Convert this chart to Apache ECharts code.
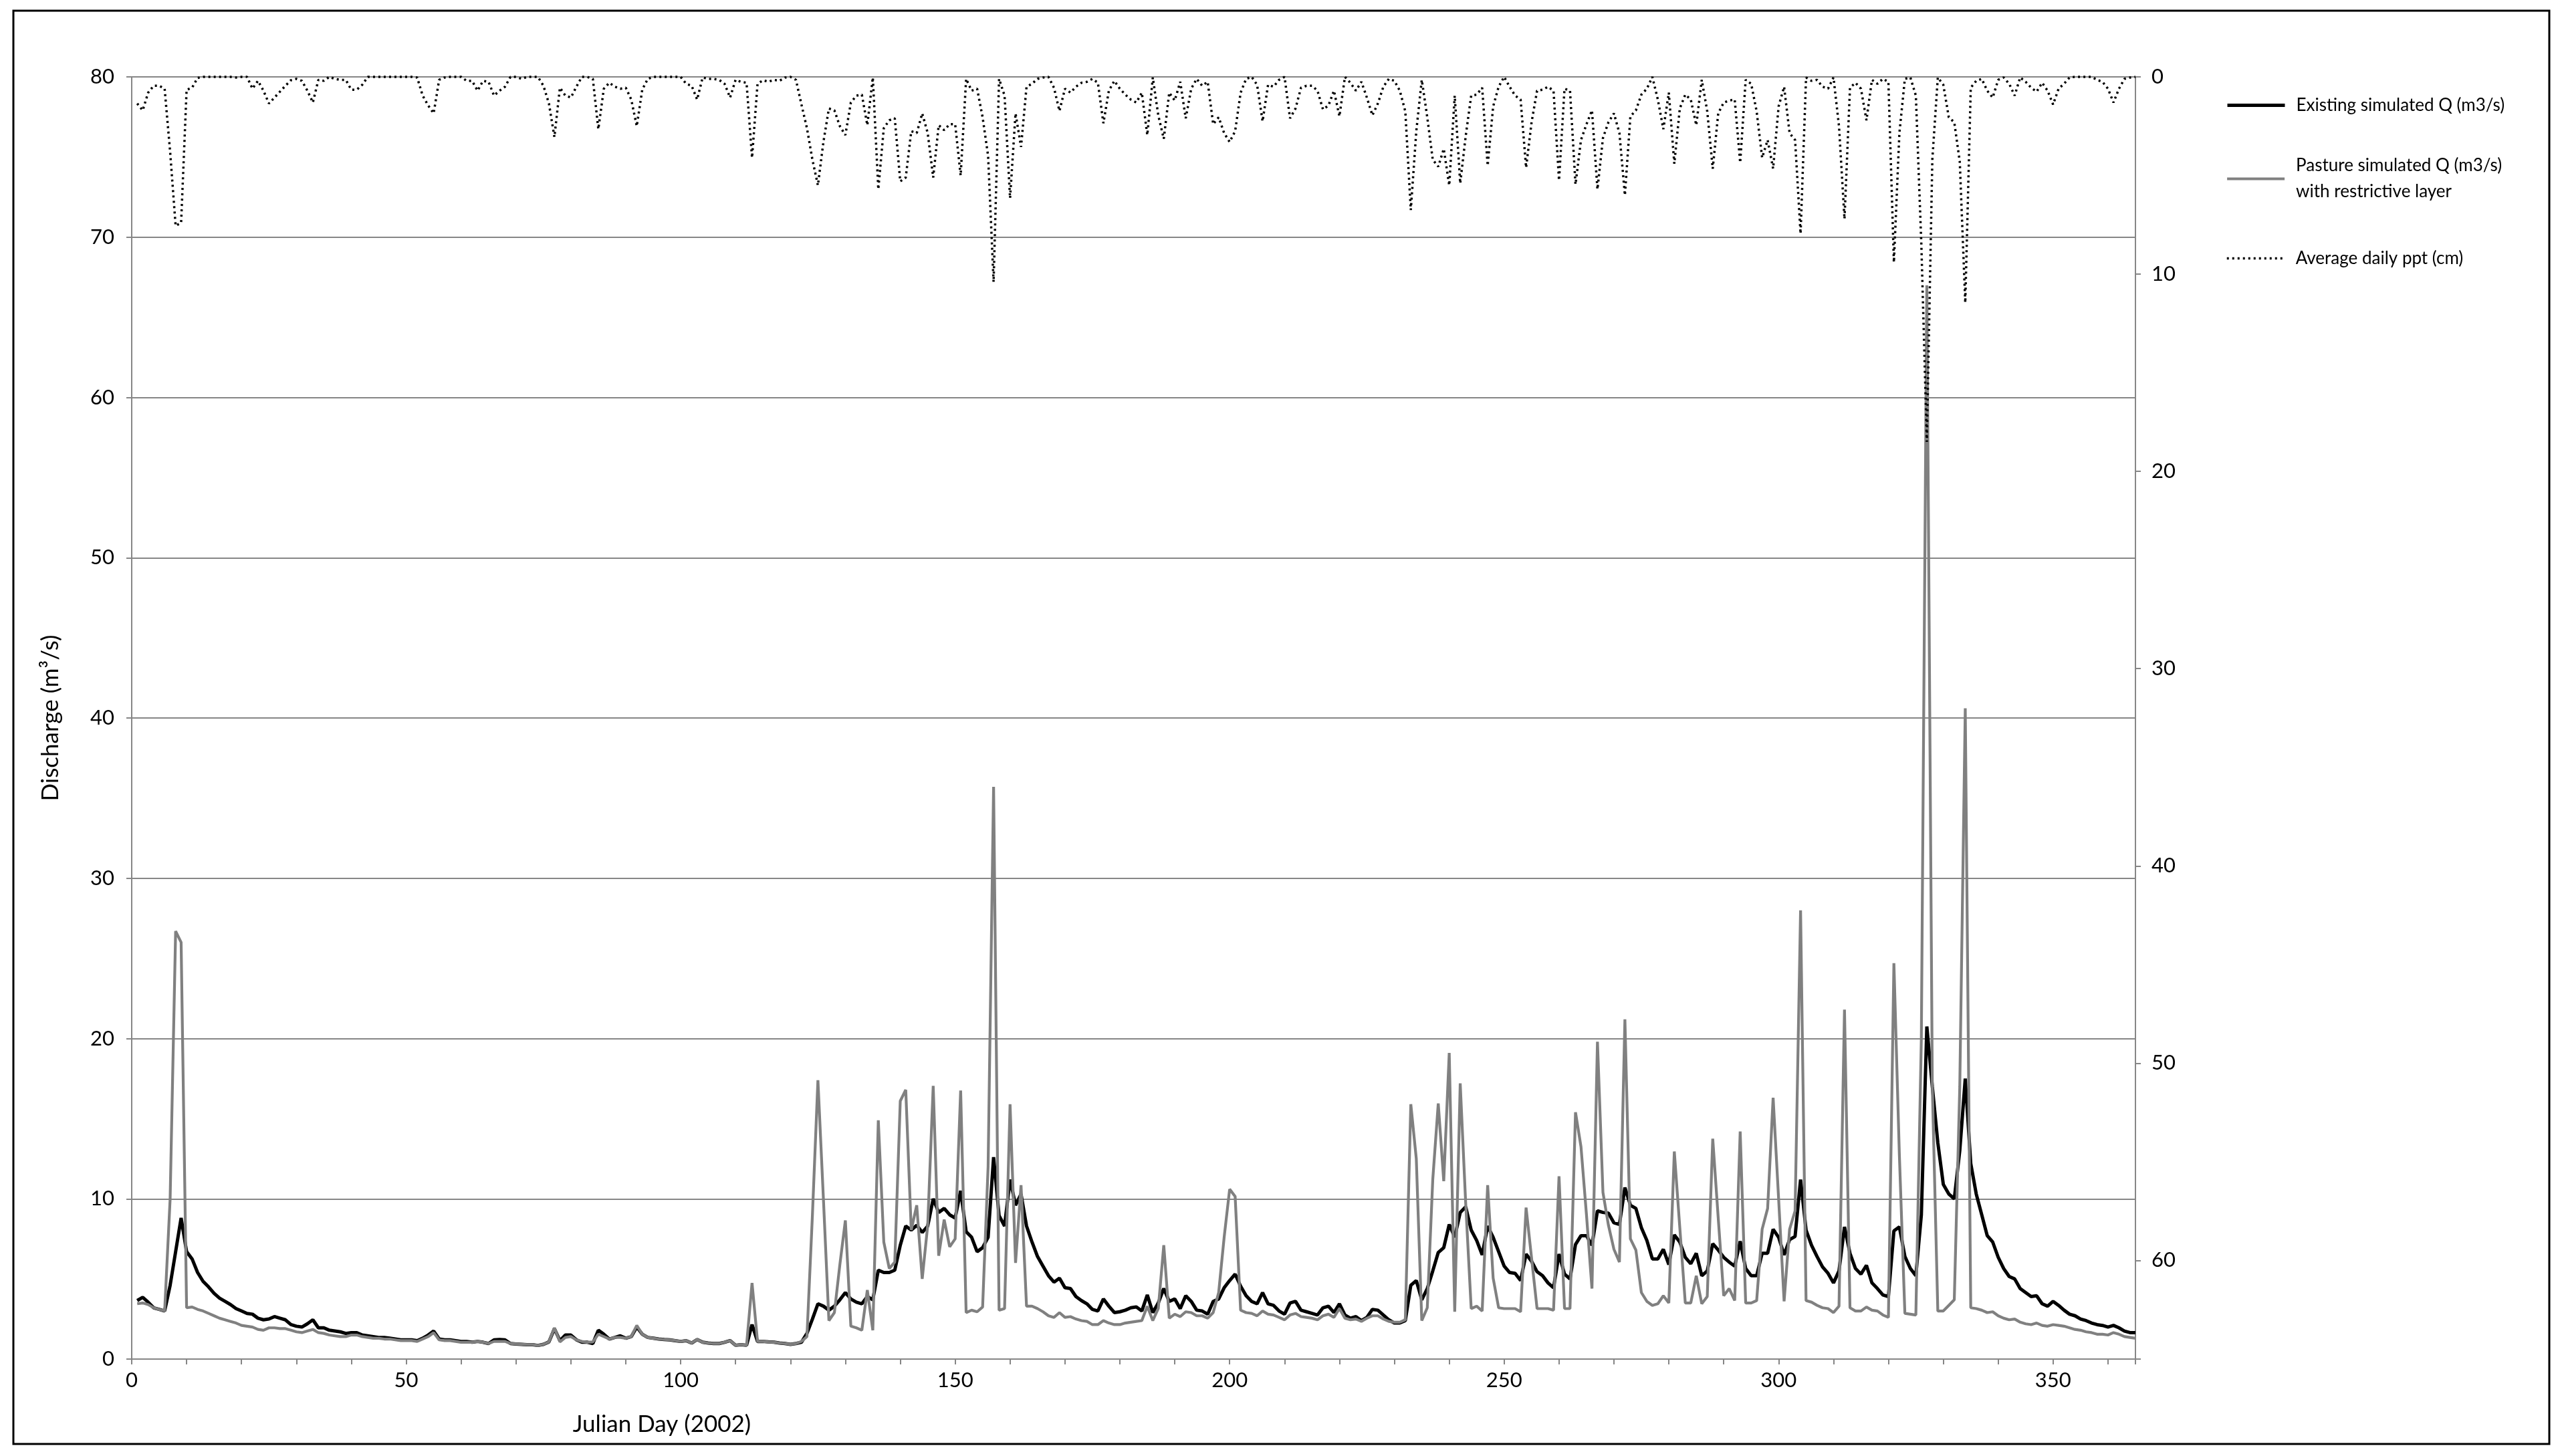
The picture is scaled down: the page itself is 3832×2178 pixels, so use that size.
<!DOCTYPE html>
<html><head><meta charset="utf-8">
<script src="https://cdn.jsdelivr.net/npm/echarts@6/dist/echarts.min.js"></script>
<style>html,body{margin:0;padding:0;background:#fff}#c{width:3832px;height:2178px}</style>
</head><body><div id="c"></div>
<script>
// Existing simulated Q (m3/s), days 1..365
const existingQ = [
3.65,3.85,3.55,3.2,3.1,3.0,4.6,6.7,8.8,6.7,
6.25,5.4,4.85,4.5,4.1,3.8,3.6,3.4,3.15,3.0,
2.85,2.8,2.55,2.45,2.5,2.65,2.55,2.45,2.15,2.05,
2.0,2.2,2.45,1.95,1.95,1.8,1.75,1.7,1.6,1.65,
1.65,1.5,1.45,1.4,1.35,1.35,1.3,1.25,1.2,1.2,
1.2,1.15,1.3,1.5,1.75,1.25,1.2,1.2,1.15,1.1,
1.1,1.05,1.1,1.05,0.97,1.2,1.22,1.2,0.97,0.94,
0.92,0.9,0.9,0.85,0.92,1.07,1.9,1.15,1.5,1.5,
1.2,1.05,1.05,0.97,1.8,1.55,1.25,1.35,1.45,1.3,
1.4,2.0,1.55,1.35,1.3,1.25,1.22,1.2,1.15,1.1,
1.15,1.0,1.22,1.05,1.0,0.97,0.97,1.05,1.15,0.86,
0.9,0.86,2.15,1.1,1.1,1.07,1.05,1.0,0.97,0.92,
0.97,1.05,1.6,2.5,3.45,3.3,3.05,3.3,3.7,4.15,
3.75,3.55,3.45,3.9,3.7,5.55,5.4,5.4,5.55,7.1,
8.3,8.05,8.35,7.9,8.3,10.0,9.15,9.4,9.0,8.8,
10.5,7.95,7.6,6.7,6.95,7.6,12.6,8.95,8.3,11.2,
9.6,10.3,8.3,7.3,6.4,5.8,5.2,4.8,5.05,4.45,
4.4,3.9,3.65,3.45,3.1,3.0,3.75,3.3,2.9,2.95,
3.05,3.2,3.25,3.0,4.0,2.9,3.5,4.4,3.6,3.75,
3.15,3.95,3.6,3.05,3.0,2.8,3.6,3.75,4.45,4.9,
5.3,4.55,3.95,3.6,3.45,4.15,3.45,3.35,3.0,2.8,
3.5,3.6,3.05,2.95,2.85,2.75,3.2,3.3,2.9,3.45,
2.75,2.55,2.65,2.4,2.6,3.1,3.05,2.75,2.45,2.25,
2.25,2.4,4.6,4.9,3.7,4.4,5.5,6.65,6.95,8.4,
7.6,9.15,9.5,8.05,7.4,6.5,8.3,7.6,6.7,5.8,
5.4,5.35,4.9,6.55,6.1,5.45,5.2,4.75,4.45,6.55,
5.3,5.0,7.15,7.7,7.7,7.1,9.25,9.15,9.1,8.5,
8.4,10.7,9.6,9.4,8.2,7.4,6.25,6.25,6.85,5.9,
7.75,7.3,6.35,5.95,6.6,5.2,5.5,7.2,6.8,6.35,
6.05,5.8,7.35,5.65,5.2,5.2,6.6,6.6,8.1,7.6,
6.5,7.45,7.65,11.2,8.05,7.1,6.4,5.75,5.35,4.75,
5.5,8.25,6.6,5.65,5.3,5.85,4.75,4.4,4.0,3.9,
8.0,8.25,6.4,5.65,5.2,9.0,20.75,17.0,13.5,10.9,
10.3,10.0,13.0,17.5,12.2,10.3,9.0,7.7,7.3,6.35,
5.65,5.15,5.0,4.4,4.15,3.9,3.95,3.45,3.3,3.6,
3.35,3.05,2.8,2.7,2.5,2.4,2.25,2.15,2.1,2.0,
2.1,1.95,1.75,1.65,1.65
];
// Pasture simulated Q (m3/s) with restrictive layer, days 1..365
const pastureQ = [
3.45,3.5,3.4,3.2,3.1,3.0,10.0,26.7,26.0,3.2,
3.25,3.1,3.0,2.85,2.7,2.55,2.45,2.35,2.25,2.1,
2.05,2.0,1.85,1.8,1.95,1.95,1.9,1.9,1.8,1.7,
1.65,1.75,1.85,1.65,1.6,1.5,1.45,1.4,1.4,1.5,
1.5,1.4,1.35,1.3,1.3,1.25,1.25,1.2,1.15,1.15,
1.15,1.1,1.25,1.4,1.65,1.2,1.15,1.15,1.1,1.05,
1.05,1.05,1.1,1.05,0.97,1.1,1.1,1.1,0.97,0.94,
0.92,0.9,0.9,0.85,0.92,1.07,1.95,1.07,1.35,1.4,
1.2,1.1,1.05,1.07,1.55,1.4,1.25,1.35,1.35,1.3,
1.4,2.1,1.55,1.35,1.3,1.25,1.22,1.2,1.15,1.1,
1.15,1.0,1.22,1.05,1.0,0.97,0.97,1.05,1.15,0.86,
0.9,0.86,4.75,1.1,1.1,1.07,1.05,1.0,0.97,0.92,
0.97,1.1,1.4,9.0,17.4,10.0,2.4,2.9,5.9,8.65,
2.05,1.95,1.8,4.3,1.8,14.9,7.3,5.65,6.05,16.1,
16.8,8.05,9.6,5.0,8.35,17.05,6.45,8.7,7.0,7.5,
16.75,2.9,3.05,2.95,3.25,12.0,35.7,3.05,3.15,15.9,
6.0,10.85,3.3,3.3,3.15,2.95,2.7,2.6,2.9,2.6,
2.65,2.5,2.4,2.35,2.15,2.15,2.4,2.25,2.15,2.15,
2.25,2.3,2.35,2.4,3.3,2.4,3.15,7.1,2.55,2.8,
2.65,2.95,2.9,2.7,2.7,2.55,2.9,4.15,7.6,10.6,
10.15,3.05,2.9,2.85,2.7,3.0,2.8,2.75,2.6,2.45,
2.75,2.85,2.65,2.6,2.55,2.45,2.7,2.8,2.6,3.15,
2.55,2.45,2.5,2.35,2.55,2.7,2.7,2.5,2.35,2.3,
2.3,2.45,15.9,12.5,2.4,3.2,11.2,15.95,11.1,19.1,
2.95,17.2,9.7,3.15,3.3,3.0,10.85,5.05,3.2,3.15,
3.15,3.15,2.95,9.45,6.3,3.15,3.15,3.15,3.05,11.4,
3.15,3.15,15.4,13.25,9.0,4.4,19.8,10.4,8.35,6.85,
6.05,21.2,7.5,6.8,4.15,3.6,3.35,3.45,3.95,3.5,
12.95,8.2,3.5,3.5,5.2,3.45,3.9,13.75,8.8,3.95,
4.4,3.65,14.2,3.5,3.5,3.65,8.1,9.4,16.3,10.0,
3.6,8.1,9.25,28.0,3.65,3.55,3.35,3.2,3.15,2.9,
3.3,21.8,3.2,3.0,3.0,3.25,3.05,3.0,2.75,2.6,
24.7,12.7,2.85,2.8,2.75,20.0,67.0,17.0,3.0,3.0,
3.35,3.7,17.0,40.6,3.2,3.15,3.05,2.9,2.95,2.7,
2.55,2.45,2.5,2.3,2.2,2.15,2.25,2.1,2.05,2.15,
2.1,2.05,1.95,1.85,1.8,1.7,1.65,1.55,1.55,1.5,
1.65,1.55,1.4,1.35,1.3
];
// Average daily ppt (cm), days 1..365
const avgPpt = [
1.35,1.7,0.8,0.45,0.45,0.6,3.8,7.55,7.4,0.65,
0.55,0.05,0,0,0,0,0,0,0.03,0,
0,0.6,0.2,0.7,1.35,1.05,0.75,0.45,0.17,0.1,
0.2,0.7,1.3,0.15,0.2,0,0.1,0.15,0.15,0.65,
0.65,0.4,0,0,0,0,0,0,0,0,
0,0.03,0.95,1.45,1.85,0.15,0.03,0,0,0,
0.2,0.2,0.7,0.2,0.25,0.95,0.7,0.5,0,0,
0.1,0,0,0,0.45,1.35,3.05,0.55,0.95,1.05,
0.5,0,0,0.1,2.65,0.6,0.3,0.5,0.6,0.55,
1.15,2.5,0.65,0.1,0,0,0,0,0,0,
0.35,0.45,1.15,0.03,0.1,0.1,0.15,0.35,1.05,0.15,
0.25,0.3,4.1,0.35,0.17,0.25,0.15,0.2,0.03,0,
0.15,1.4,2.6,4.2,5.5,3.3,1.6,1.7,2.5,2.95,
1.3,0.95,0.9,2.45,0.03,5.7,2.6,2.2,2.1,5.3,
5.1,2.75,2.85,1.85,2.85,5.1,2.45,2.7,2.4,2.4,
5.0,0.1,0.7,0.6,2.05,4.0,10.4,0.1,0.95,6.15,
1.85,3.55,0.5,0.35,0.1,0.03,0,0.55,1.73,0.6,
0.8,0.5,0.3,0.25,0.1,0.3,2.35,0.7,0.2,0.6,
0.9,1.15,1.3,0.8,2.95,0.03,1.95,3.14,0.8,1.2,
0.25,2.1,0.6,0.1,0.45,0.25,2.4,2.05,2.85,3.3,
2.75,0.8,0.1,0,0.4,2.25,0.4,0.5,0.15,0,
2.1,1.6,0.55,0.45,0.45,0.7,1.65,1.45,0.7,2.0,
0,0.3,0.7,0.25,1.05,1.95,1.35,0.5,0.1,0.2,
0.7,1.75,6.75,2.75,0.15,2.05,4.2,4.55,3.65,5.5,
0.95,5.4,3.0,0.95,0.9,0.55,4.5,1.5,0.5,0,
0.5,0.95,1.15,4.6,2.3,0.7,0.65,0.5,0.7,5.25,
0.6,0.7,5.45,3.2,2.4,1.7,5.7,3.1,2.3,1.85,
2.85,6.0,2.0,1.7,0.9,0.6,0,1.15,2.65,0.8,
4.4,1.6,0.9,1.15,2.45,0.15,1.75,4.65,1.85,1.3,
1.2,1.15,4.35,0.15,0.35,1.75,4.1,3.2,4.65,1.5,
0.5,2.85,3.2,7.95,0.03,0.2,0.15,0.5,0.6,0.03,
2.5,7.2,0.55,0.3,0.6,2.2,0.15,0.35,0.1,0.25,
9.4,2.85,0.1,0.03,0.95,8.5,18.5,4.2,0.03,0.4,
2.05,2.3,4.3,11.45,0.55,0.2,0.1,0.7,1.05,0.15,
0.03,0.35,0.95,0.03,0.25,0.55,0.75,0.3,0.7,1.4,
0.6,0.35,0.03,0,0,0,0,0.15,0.25,0.6,
1.3,0.6,0.1,0.03,0
];
const firstDay = 1;
const seriesNames = ['Existing simulated Q (m3/s)', 'Pasture simulated Q (m3/s) with restrictive layer', 'Average daily ppt (cm)'];
const xTitle = 'Julian Day (2002)';
const yTitle = 'Discharge (m\u00b3/s)';

const pairs = arr => arr.map((v, i) => [firstDay + i, v]);
const FONT = 'Lato';
const gridGray = '#868686';

const chart = echarts.init(document.getElementById('c'), null, {renderer: 'canvas'});
const legendText = {fontFamily: FONT, fontSize: 26, color: '#000', lineHeight: 39};
const legendBase = {orient: 'vertical', left: 3324, itemWidth: 86, itemHeight: 14,
  itemStyle: {opacity: 0, borderWidth: 0}};
chart.setOption({
  backgroundColor: '#fff',
  animation: false,
  grid: {left: 197, right: 638, top: 115, bottom: 145, containLabel: false},
  legend: [
    Object.assign({data: [seriesNames[0]], top: 133,
     lineStyle: {width: 5, color: '#000'},
     textStyle: Object.assign({padding: [0, 0, 0, 12]}, legendText)}, legendBase),
    Object.assign({data: [seriesNames[1]], top: 204,
     lineStyle: {width: 4.2, color: '#808080'},
     formatter: () => 'Pasture simulated Q (m3/s)\nwith restrictive layer',
     textStyle: Object.assign({padding: [39, 0, 0, 12]}, legendText)}, legendBase),
    Object.assign({data: [seriesNames[2]], top: 362,
     lineStyle: {width: 3.5, color: '#000', type: [3, 5]},
     textStyle: Object.assign({padding: [0, 0, 0, 12]}, legendText)}, legendBase)
  ],
  xAxis: {
    type: 'value', min: 0, max: 365, interval: 10,
    axisLine: {show: true, lineStyle: {color: gridGray, width: 2}},
    axisTick: {show: true, inside: false, length: 8, lineStyle: {color: gridGray, width: 2}},
    splitLine: {show: false},
    axisLabel: {fontFamily: FONT, fontSize: 31, color: '#000', margin: 16,
      formatter: v => (v % 50 === 0 ? String(v) : '')}
  },
  yAxis: [
    {type: 'value', min: 0, max: 80, interval: 10, position: 'left',
     name: yTitle, nameLocation: 'middle', nameGap: 104, nameRotate: 90,
     nameTextStyle: {fontFamily: FONT, fontSize: 35, color: '#000'},
     axisLine: {show: true, lineStyle: {color: gridGray, width: 2}},
     axisTick: {show: true, inside: false, length: 8, lineStyle: {color: gridGray, width: 2}},
     splitLine: {show: true, lineStyle: {color: gridGray, width: 2}},
     axisLabel: {fontFamily: FONT, fontSize: 31, color: '#000', margin: 26}},
    {type: 'value', min: 0, max: 65, interval: 10, position: 'right', inverse: true,
     axisLine: {show: true, lineStyle: {color: gridGray, width: 2}},
     axisTick: {show: true, inside: false, length: 8, lineStyle: {color: gridGray, width: 2}},
     splitLine: {show: false},
     axisLabel: {fontFamily: FONT, fontSize: 31, color: '#000', margin: 24,
       formatter: v => (v % 10 === 0 ? String(v) : '')}}
  ],
  series: [
    {name: seriesNames[0], type: 'line', yAxisIndex: 0, data: pairs(existingQ),
     symbol: 'none', color: '#000', lineStyle: {color: '#000', width: 5}, z: 3},
    {name: seriesNames[1], type: 'line', yAxisIndex: 0, data: pairs(pastureQ),
     symbol: 'none', color: '#808080', lineStyle: {color: '#808080', width: 4.2}, z: 4},
    {name: seriesNames[2], type: 'line', yAxisIndex: 1, data: pairs(avgPpt), clip: false,
     symbol: 'none', color: '#000', lineStyle: {color: '#000', width: 3.5, type: [3, 5]}, z: 5}
  ],
  graphic: [
    {type: 'rect', shape: {x: 20, y: 16, width: 3793, height: 2144}, silent: true,
     style: {fill: 'none', stroke: '#000', lineWidth: 3}, z: -1},
    {type: 'text', x: 990, y: 2131, silent: true,
     style: {text: xTitle, font: '35px ' + FONT, fill: '#000', textAlign: 'center', textVerticalAlign: 'middle'}}
  ]
});
</script>
</body></html>
